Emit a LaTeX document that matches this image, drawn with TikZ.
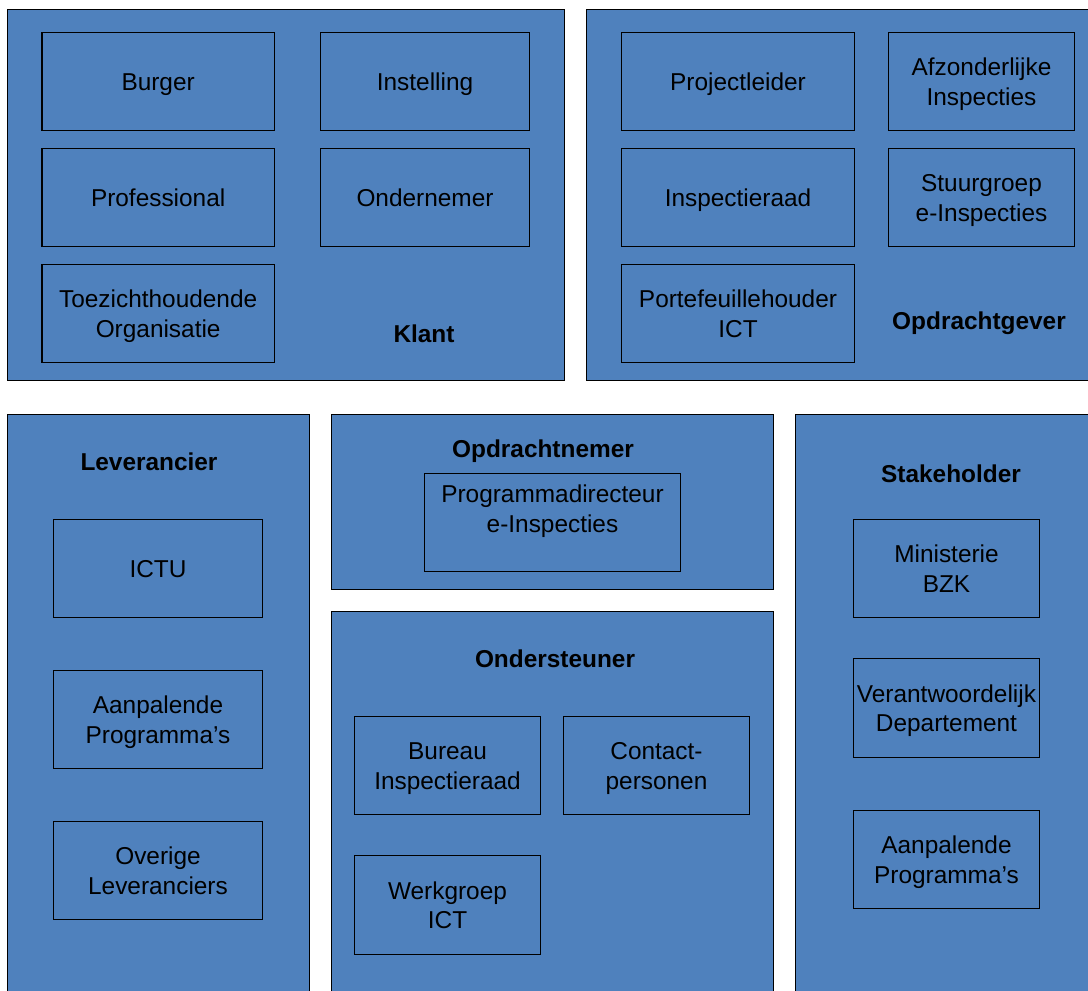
\documentclass[tikz,border=0pt]{standalone}
\usepackage{fontspec}
\setmainfont{Liberation Sans}
\definecolor{fillblue}{HTML}{4F81BD}
\newcommand{\st}{\rule[-5.5pt]{0pt}{29pt}}
\tikzset{x=1pt,y=-1pt,
 panel/.style={draw=black,fill=fillblue,line width=1.7pt,anchor=north west,inner sep=0pt,outer sep=0pt},
 inner/.style={draw=black,fill=fillblue,line width=1.6pt},
 lbl/.style={font=\fontsize{24.4}{29.5}\selectfont,align=center,inner sep=0pt,text=black},
 head/.style={font=\fontsize{24.4}{29.5}\selectfont\bfseries,align=center,inner sep=0pt,text=black}}
\newcommand{\ibox}[6]{\node[inner,minimum width=#4 pt - #2 pt,minimum height=#5 pt - #3 pt,anchor=north west,outer sep=0pt,lbl] (#1) at (#2,#3) {#6};}
\begin{document}
\begin{tikzpicture}
\useasboundingbox (0,0) rectangle (1088,991);
\fill[white] (0,0) rectangle (1088,991);
\begin{scope}
\clip (0,0) rectangle (1088,991);
\node[panel,minimum width=557pt,minimum height=371pt] (klant) at (7.5,9.5) {};
\node[panel,minimum width=520pt,minimum height=371pt] (opdrachtgever) at (586.5,9.5) {};
\node[panel,minimum width=302pt,minimum height=600pt] (leverancier) at (7.5,414.5) {};
\node[panel,minimum width=442pt,minimum height=175pt] (opdrachtnemer) at (331.5,414.5) {};
\node[panel,minimum width=442pt,minimum height=400pt] (ondersteuner) at (331.5,611.5) {};
\node[panel,minimum width=320pt,minimum height=600pt] (stakeholder) at (795.5,414.5) {};
\end{scope}
\ibox{a1}{41.8}{32.5}{274.5}{130.5}{\st Burger\st}
\ibox{a2}{320.5}{32.5}{529.5}{130.5}{\st Instelling\st}
\ibox{a3}{41.8}{148.5}{274.5}{246.5}{\st Professional\st}
\ibox{a4}{320.5}{148.5}{529.5}{246.5}{\st Ondernemer\st}
\ibox{a5}{41.8}{264.5}{274.5}{362.5}{\st Toezichthoudende\\Organisatie\st}
\node[head] (tklant) at (424,334) {Klant};
\ibox{b1}{621.5}{32.5}{854.5}{130.5}{\st Projectleider\st}
\ibox{b2}{888.5}{32.5}{1074.5}{130.5}{\st Afzonderlijke\\Inspecties\st}
\ibox{b3}{621.5}{148.5}{854.5}{246.5}{\st Inspectieraad\st}
\ibox{b4}{888.5}{148.5}{1074.5}{246.5}{\st Stuurgroep\\e-Inspecties\st}
\ibox{b5}{621.5}{264.5}{854.5}{362.5}{\st Portefeuillehouder\\ICT\st}
\node[head] (topd) at (979,323.5) {Opdrachtgever};
\node[head] (tlev) at (149,461.5) {Leverancier};
\ibox{c1}{53.5}{519.5}{262.5}{617.5}{\st ICTU\st}
\ibox{c2}{53.5}{670.5}{262.5}{768.5}{\st Aanpalende\\Programma’s\st}
\ibox{c3}{53.5}{821.5}{262.5}{919.5}{\st Overige\\Leveranciers\st}
\node[head] (tnem) at (543,451) {Opdrachtnemer};
\ibox{d1}{424.5}{473.5}{680.5}{571.5}{Programmadirecteur\\e-Inspecties\\[-2pt]\mbox{}}
\node[head] (tond) at (555,659) {Ondersteuner};
\ibox{e1}{354.5}{716.5}{540.5}{814.5}{\st Bureau\\Inspectieraad\st}
\ibox{e2}{563.5}{716.5}{749.5}{814.5}{\st Contact-\\personen\st}
\ibox{e3}{354.5}{855.5}{540.5}{954.5}{\st Werkgroep\\ICT\st}
\node[head] (tsta) at (951,473.5) {Stakeholder};
\ibox{f1}{853.5}{519.5}{1039.5}{617.5}{\st Ministerie\\BZK\st}
\ibox{f2}{853.5}{658.5}{1039.5}{757.5}{\st Verantwoordelijk\\Departement\st}
\ibox{f3}{853.5}{810.5}{1039.5}{908.5}{\st Aanpalende\\Programma’s\st}
\end{tikzpicture}
\end{document}
